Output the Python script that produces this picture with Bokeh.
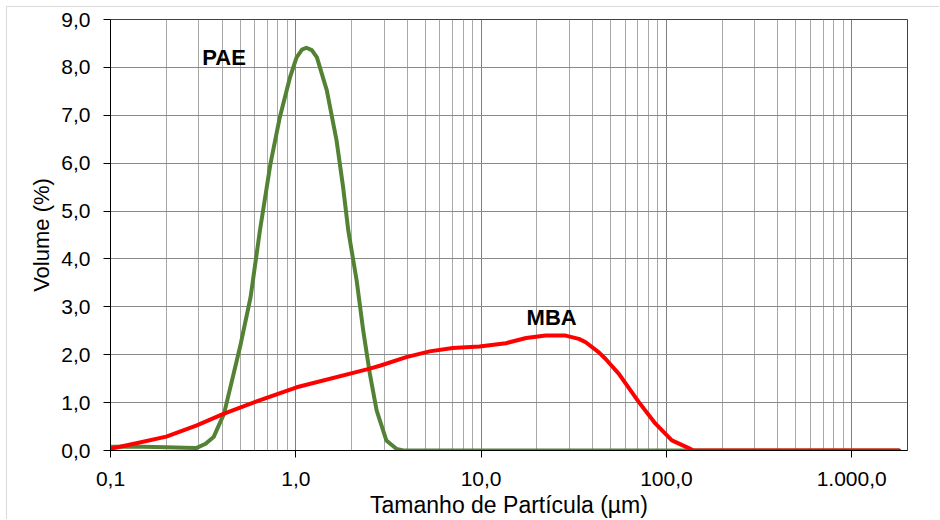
from bokeh.plotting import figure
from bokeh.models import FixedTicker, CustomJSTickFormatter, ColumnDataSource
from bokeh.core.properties import value
from bokeh.embed import file_html
from bokeh.resources import INLINE

# ---------------- data ----------------
pae_x = [0.10, 0.15, 0.20, 0.25, 0.29, 0.326, 0.36, 0.41, 0.50, 0.57, 0.64, 0.73,
         0.82, 0.93, 1.01, 1.08, 1.14, 1.22, 1.30, 1.47, 1.66, 1.80, 1.92, 2.13, 2.31,
         2.51, 2.73, 3.08, 3.49, 3.8, 10.0, 100.0, 1000.0, 1800.0]
pae_y = [0.08, 0.08, 0.07, 0.06, 0.05, 0.14, 0.28, 0.77, 2.16, 3.20, 4.59, 5.99,
         6.96, 7.79, 8.21, 8.37, 8.41, 8.36, 8.21, 7.52, 6.47, 5.50, 4.59, 3.55, 2.51,
         1.60, 0.84, 0.21, 0.035, 0.0, 0.0, 0.0, 0.0, 0.0]

mba_x = [0.10, 0.134, 0.20, 0.29, 0.41, 0.62, 1.01, 2.51, 2.84, 3.95, 5.27, 7.03,
         9.79, 13.6, 17.5, 22.3, 28.6, 33.7, 36.7, 43.2, 47.0, 55.4, 71.0, 87.3,
         107.0, 132.0, 140.0, 1000.0, 1800.0]
mba_y = [0.035, 0.14, 0.29, 0.52, 0.77, 1.03, 1.32, 1.71, 1.77, 1.95, 2.07, 2.14,
         2.17, 2.24, 2.35, 2.40, 2.40, 2.33, 2.26, 2.05, 1.91, 1.60, 1.01, 0.56,
         0.21, 0.05, 0.0, 0.0, 0.0]

series_names = ["PAE", "MBA"]
label_x = [0.313, 17.6]
label_y = [8.21, 2.78]

XTICKS = [0.1, 1.0, 10.0, 100.0, 1000.0]
XTICK_LABELS = ["0,1", "1,0", "10,0", "100,0", "1.000,0"]
XMINOR = [m * d for d in [0.1, 1.0, 10.0, 100.0] for m in range(2, 10)]
YTICKS = [0, 1, 2, 3, 4, 5, 6, 7, 8, 9]
YTICK_LABELS = ["0,0", "1,0", "2,0", "3,0", "4,0", "5,0", "6,0", "7,0", "8,0", "9,0"]

FONT = "Liberation Sans"
GREEN = "#548235"
RED = "#ff0000"

p = figure(width=933, height=513, x_axis_type="log", x_range=(0.1, 2000), y_range=(0, 9),
           output_backend="svg", toolbar_location=None,
           min_border_left=103, min_border_top=12, min_border_right=33, min_border_bottom=70)
p.margin = (6, 0, 0, 6)
p.styles = {"border-top": "1px solid #d9d9d9", "border-left": "1px solid #d9d9d9"}
p.background_fill_color = "white"
p.border_fill_color = "white"
p.outline_line_color = "#404040"
p.outline_line_width = 1

# grids
p.xaxis.ticker = FixedTicker(ticks=XTICKS, minor_ticks=XMINOR)
p.yaxis.ticker = FixedTicker(ticks=YTICKS)
p.xgrid.grid_line_color = "#7f7f7f"
p.xgrid.minor_grid_line_color = "#a8a8a8"
p.ygrid.grid_line_color = "#8a8a8a"

fmt_code = """
const i = vals.findIndex(v => Math.abs(v - tick) <= 1e-9 * Math.max(1, Math.abs(v)));
return i >= 0 ? labs[i] : "";
"""
p.xaxis.formatter = CustomJSTickFormatter(args=dict(vals=XTICKS, labs=XTICK_LABELS), code=fmt_code)
p.yaxis.formatter = CustomJSTickFormatter(args=dict(vals=YTICKS, labs=YTICK_LABELS), code=fmt_code)

for ax in (p.xaxis, p.yaxis):
    ax.axis_line_color = "black"
    ax.axis_line_width = 1
    ax.major_tick_line_color = "black"
    ax.major_tick_in = 0
    ax.major_tick_out = 7
    ax.minor_tick_line_color = None
    ax.major_label_text_font = FONT
    ax.major_label_text_font_size = "21px"
    ax.major_label_text_color = "black"
    ax.axis_label_text_font = FONT
    ax.axis_label_text_font_style = "normal"
    ax.axis_label_text_color = "black"

p.xaxis.axis_label_text_font_size = "23px"
p.yaxis.axis_label_text_font_size = "22px"
p.xaxis.major_label_standoff = 14
p.xaxis.axis_label_standoff = 3
p.yaxis.major_label_standoff = 13
p.yaxis.axis_label_standoff = 4
p.xaxis.axis_label = "Tamanho de Partícula (µm)"
p.yaxis.axis_label = "Volume (%)"

pae_src = ColumnDataSource(dict(x=pae_x, y=pae_y))
mba_src = ColumnDataSource(dict(x=mba_x, y=mba_y))
p.line("x", "y", source=pae_src, line_color=GREEN, line_width=4, line_join="round", line_cap="round")
p.line("x", "y", source=mba_src, line_color=RED, line_width=4, line_join="round", line_cap="round")

lab_src = ColumnDataSource(dict(x=label_x, y=label_y, t=series_names))
p.text("x", "y", text="t", source=lab_src, text_font=value(FONT), text_font_style="bold",
       text_font_size="22px", text_color="black", text_align="left", text_baseline="middle")

open("out.html", "w").write(file_html(p, INLINE))
